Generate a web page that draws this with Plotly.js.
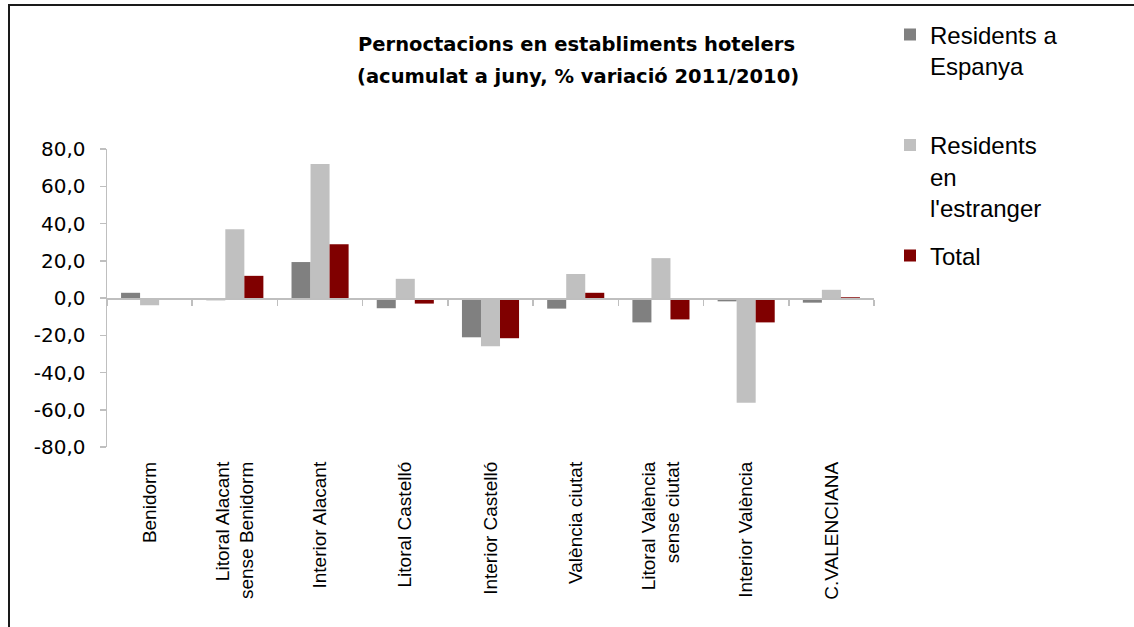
<!DOCTYPE html>
<html>
<head>
<meta charset="utf-8">
<script src="https://cdn.plot.ly/plotly-3.0.1.min.js"></script>
<style>
  html, body { margin:0; padding:0; background:#fff; }
  #wrap { position:relative; width:1134px; height:627px; overflow:hidden; }
  #chart { position:absolute; left:0; top:0; width:1134px; height:627px; }
  #frame { position:absolute; left:8px; top:4px; right:-10px; bottom:-10px;
           border-top:2px solid #1a1a1a; border-left:2px solid #1a1a1a; pointer-events:none; }
</style>
</head>
<body>
<div id="wrap"><div id="chart"></div><div id="frame"></div></div>
<script>
// ---- data ----
const categories = ['Benidorm', 'Litoral Alacant<br>sense Benidorm', 'Interior Alacant', 'Litoral Castelló',
  'Interior Castelló', 'València ciutat', 'Litoral València<br>sense ciutat', 'Interior València', 'C.VALENCIANA'];
const residentsEspanya   = [2.8, -1.2, 19.3, -5.5, -21.1, -5.7, -13.1, -1.8, -2.5];
const residentsEstranger = [-3.9, 36.9, 72.0, 10.3, -25.9, 12.9, 21.4, -56.2, 4.4];
const total              = [-0.7, 11.9, 28.9, -3.0, -21.6, 2.8, -11.5, -13.1, 0.4];
const seriesNames = ['Residents a<br>Espanya<br> ', 'Residents<br>en<br>l\'estranger', 'Total'];
const yTickVals = [-80, -60, -40, -20, 0, 20, 40, 60, 80];
const yTickText = ['-80,0', '-60,0', '-40,0', '-20,0', '0,0', '20,0', '40,0', '60,0', '80,0'];
const titleLines = ['Pernoctacions en establiments hotelers', '(acumulat a juny, % variació 2011/2010)'];

const W = 1134, H = 627;
const m = {l:107, r:260, t:144, b:180};
const pw = W - m.l - m.r, ph = H - m.t - m.b;
const px = v => (v - m.l) / pw;          // pixel x -> paper x
const py = v => (H - m.b - v) / ph;      // pixel y -> paper y

const traces = [
  {type:'bar', name:seriesNames[0], x:categories, y:residentsEspanya, marker:{color:'#808080'}, legendgroup:'a'},
  {type:'bar', name:seriesNames[1], x:categories, y:residentsEstranger, marker:{color:'#c0c0c0'}, legendgroup:'b'},
  {type:'bar', name:seriesNames[2], x:categories, y:total, marker:{color:'#800000'}, legendgroup:'c'},
  {type:'scatter', mode:'markers', x:categories, y:categories.map(() => null), xaxis:'x2',
   showlegend:false, hoverinfo:'skip', marker:{opacity:0}}
];

const layout = {
  width: W, height: H,
  margin: m,
  paper_bgcolor:'#fff', plot_bgcolor:'#fff',
  barmode:'group', bargap:0.33, bargroupgap:0,
  showlegend:true,
  legend:{
    x: px(890), xanchor:'left', y: py(5), yanchor:'top',
    font:{family:'Liberation Sans, Arial, sans-serif', size:24, color:'#000'},
    valign:'top', tracegroupgap:14, traceorder:'grouped',
    bgcolor:'rgba(0,0,0,0)'
  },
  xaxis:{
    type:'category', range:[-0.5, 8.5], showline:false, ticks:'', showgrid:false,
    tickangle:-90, ticklabelstandoff:10,
    tickfont:{family:'Liberation Sans, Arial, sans-serif', size:19, color:'#000'},
    fixedrange:true
  },
  xaxis2:{
    type:'category', overlaying:'x', anchor:'free', position:0.5, range:[-0.5, 8.5],
    showline:true, linecolor:'#bfbfbf', linewidth:1.5,
    ticks:'outside', tickson:'boundaries', ticklen:6, tickcolor:'#bfbfbf', tickwidth:1.5,
    showticklabels:false, showgrid:false, fixedrange:true
  },
  yaxis:{
    range:[-80, 80], tickvals:yTickVals, ticktext:yTickText,
    showline:true, linecolor:'#bfbfbf', linewidth:1.5,
    ticks:'outside', ticklen:6, tickcolor:'#bfbfbf', tickwidth:1.5,
    showgrid:false, zeroline:false, ticklabelstandoff:10,
    tickfont:{family:'DejaVu Sans, sans-serif', size:20, color:'#000'},
    fixedrange:true
  },
  annotations:[
    {text:'<b>'+titleLines[0]+'</b>', xref:'paper', yref:'paper', x:px(576), y:py(38),
     xanchor:'center', yanchor:'middle', showarrow:false,
     font:{family:'DejaVu Sans, sans-serif', size:19.5, color:'#000'}},
    {text:'<b>'+titleLines[1]+'</b>', xref:'paper', yref:'paper', x:px(578), y:py(70),
     xanchor:'center', yanchor:'middle', showarrow:false,
     font:{family:'DejaVu Sans, sans-serif', size:19.5, color:'#000'}}
  ]
};

Plotly.newPlot('chart', traces, layout, {displayModeBar:false, staticPlot:true});
</script>
</body>
</html>
